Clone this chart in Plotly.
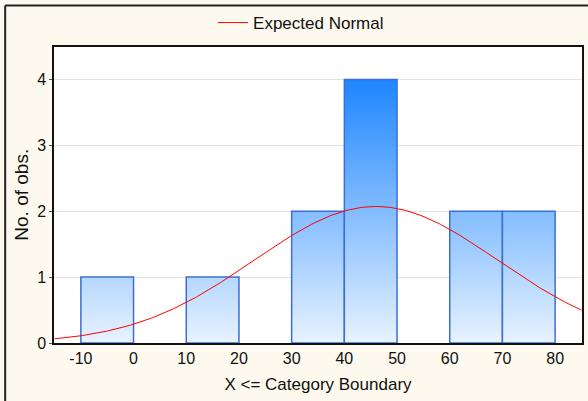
import numpy as np
import plotly.graph_objects as go

# Histogram bins (upper category boundaries) and counts
bin_lower = [-10, 0, 10, 20, 30, 40, 50, 60, 70]
bin_upper = [0, 10, 20, 30, 40, 50, 60, 70, 80]
counts = [1, 0, 1, 0, 2, 4, 0, 2, 2]

# Expected normal parameters
n_obs = 12
bin_width = 10
norm_mean = 46.0
norm_sd = 23.1

x_ticks = [-10, 0, 10, 20, 30, 40, 50, 60, 70, 80]
x_tick_labels = ["-10", "0", "10", "20", "30", "40", "50", "60", "70", "80"]
y_ticks = [0, 1, 2, 3, 4]

FONT = "Liberation Sans, Arial, sans-serif"
BG = "#fdf9ee"

fig = go.Figure()

for lo, hi, c in zip(bin_lower, bin_upper, counts):
    if c == 0:
        continue
    fig.add_trace(go.Scatter(
        x=[lo, lo, hi, hi, lo],
        y=[0, c, c, 0, 0],
        mode="lines",
        fill="toself",
        fillgradient=dict(
            type="vertical",
            colorscale=[[0, "#e8f3ff"], [1, "#1e86ff"]],
            start=0,
            stop=4,
        ),
        line=dict(color="#3b6fd6", width=1.5),
        showlegend=False,
        hoverinfo="skip",
    ))

xs = np.linspace(-15, 85, 300)
ys = n_obs * bin_width * np.exp(-0.5 * ((xs - norm_mean) / norm_sd) ** 2) / (norm_sd * np.sqrt(2 * np.pi))
fig.add_trace(go.Scatter(
    x=xs, y=ys, mode="lines",
    line=dict(color="#ff0000", width=1),
    name="Expected Normal",
))

fig.update_layout(
    width=588, height=401,
    margin=dict(l=54, r=4, t=46, b=58),
    paper_bgcolor=BG,
    plot_bgcolor="white",
    font=dict(family=FONT, size=16, color="#111111"),
    showlegend=True,
    legend=dict(
        orientation="h", x=0.512, xanchor="center", xref="container",
        y=1 - 23 / 401, yanchor="middle", yref="container",
        bgcolor="rgba(0,0,0,0)", font=dict(size=17),
    ),
    xaxis=dict(
        range=[-15.1, 85.1], tickvals=x_ticks, ticktext=x_tick_labels,
        showgrid=False, zeroline=False,
        showline=True, linecolor="#111111", linewidth=1.5, mirror=True,
        ticks="", title=dict(text="X <= Category Boundary", standoff=12,
                             font=dict(family=FONT, size=17, color="#111111")),
    ),
    yaxis=dict(
        range=[0, 4.5], tickvals=y_ticks, showgrid=True, gridcolor="#e2e2e2",
        zeroline=False, showline=True, linecolor="#111111", linewidth=1.5,
        mirror=True, ticks="outside", ticklen=3, tickcolor="#555555",
        title=dict(text="No. of obs.", standoff=3),
    ),
    shapes=[
        dict(type="line", xref="paper", yref="paper",
             x0=-49 / 530, x1=1.2, y0=1 + 41 / 297, y1=1 + 41 / 297,
             line=dict(color="#222222", width=2)),
        dict(type="line", xref="paper", yref="paper",
             x0=-49 / 530, x1=-49 / 530, y0=1 + 41 / 297, y1=-0.3,
             line=dict(color="#222222", width=2)),
    ],
)

fig.write_html("out.html")
